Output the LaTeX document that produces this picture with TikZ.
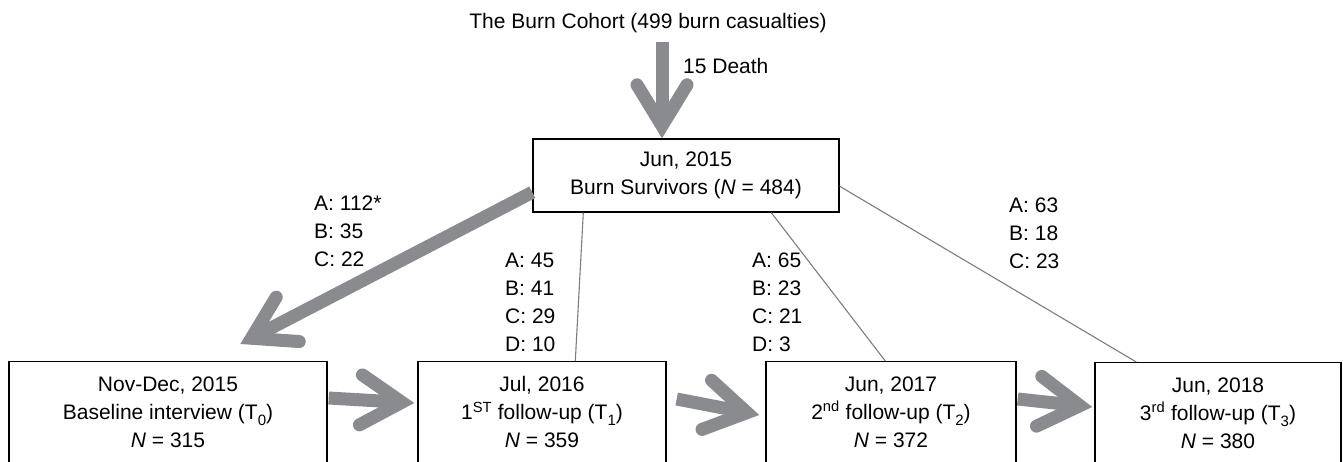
\documentclass[tikz,border=0pt]{standalone}
\usepackage{fontspec}
\setmainfont{Liberation Sans}
\usetikzlibrary{calc}
\definecolor{arrgray}{RGB}{138,139,142}
\definecolor{thingray}{RGB}{125,125,125}
\tikzset{
  every node/.style={font=\fontsize{21}{28}\selectfont},
  box/.style={draw=black, line width=1.4pt, inner xsep=0pt, inner ysep=15pt, align=center, text depth=80pt, anchor=north},
  topbox/.style={draw=black, line width=1.4pt, inner sep=0pt, align=center, minimum width=306pt, minimum height=73pt},
  lbl/.style={anchor=north west, inner sep=0pt, align=left},
  thin/.style={draw=thingray, line width=1.1pt},
  fatline/.style={draw=arrgray, line width=13pt},
}
\newcommand\mysubs[1]{\raisebox{-6pt}{\fontsize{15}{15}\selectfont #1}}
\newcommand\myfatarrow[2]{%
  \draw[fatline] (#1) -- ($(#2)!14pt!(#1)$);
  \coordinate (tmpv) at ($(#2)!12.5pt!(#1)$);
  \draw[fatline, line cap=round, line join=miter] ($(tmpv)!48pt!31.4:(#1)$) -- (tmpv) -- ($(tmpv)!48pt!-31.4:(#1)$);
}
\begin{document}
\begin{tikzpicture}[x=1pt,y=-1pt]
\useasboundingbox (0,0) rectangle (1343,462);
\clip (0,0) rectangle (1343,462);

% texts
\node[anchor=north, inner sep=0pt] (title) at (648,13) {The Burn Cohort (499 burn casualties)};
\node[anchor=north west, inner sep=0pt] (death) at (683,58) {15 Death};

% boxes
\node[topbox] (top) at (686,175.5) {Jun, 2015\\Burn Survivors (\textit{N} = 484)};
\node[box, minimum width=318pt] (b0) at (168,361) {Nov-Dec, 2015\\Baseline interview (T\mysubs{0})\\\textit{N} = 315};
\node[box, minimum width=248pt] (b1) at (542,361) {Jul, 2016\\1\textsuperscript{ST} follow-up (T\mysubs{1})\\\textit{N} = 359};
\node[box, minimum width=250pt] (b2) at (891,361) {Jun, 2017\\2\textsuperscript{nd} follow-up (T\mysubs{2})\\\textit{N} = 372};
\node[box, minimum width=246pt] (b3) at (1218,362) {Jun, 2018\\3\textsuperscript{rd} follow-up (T\mysubs{3})\\\textit{N} = 380};

% labels
\node[lbl] (l0) at (314,196) {A: 112*\\B: 35\\C: 22};
\node[lbl] (l1) at (505,253) {A: 45\\B: 41\\C: 29\\D: 10};
\node[lbl] (l2) at (752,253) {A: 65\\B: 23\\C: 21\\D: 3};
\node[lbl] (l3) at (1009,198) {A: 63\\B: 18\\C: 23};

% thin lines
\draw[thin] ($(top.south west)+(51,0)$) -- ($(b1.north west)+(158,0)$);
\draw[thin] ($(top.south west)+(239,0)$) -- ($(b2.north west)+(120,0)$);
\draw[thin] ($(top.north east)+(0,48)$) -- ($(b3.north west)+(42,0)$);

% fat arrows
\coordinate (s0) at ($(title.south)+(14,9)$);
\coordinate (t0) at ($(top.north)+(-24,0)$);
\myfatarrow{s0}{t0}
\coordinate (s1) at ($(top.north west)+(0,54)$);
\coordinate (t1) at ($(b0.north west)+(232,-17)$);
\myfatarrow{s1}{t1}
\coordinate (s2) at ($(b0.north east)+(1,37)$);
\coordinate (t2) at ($(b1.north west)+(-3,42)$);
\myfatarrow{s2}{t2}
\coordinate (s3) at ($(b1.north east)+(10,38)$);
\coordinate (t3) at ($(b2.north west)+(-6,54)$);
\myfatarrow{s3}{t3}
\coordinate (s4) at ($(b2.north east)+(1,38)$);
\coordinate (t4) at ($(b3.north west)+(-2,45)$);
\myfatarrow{s4}{t4}
\end{tikzpicture}
\end{document}
